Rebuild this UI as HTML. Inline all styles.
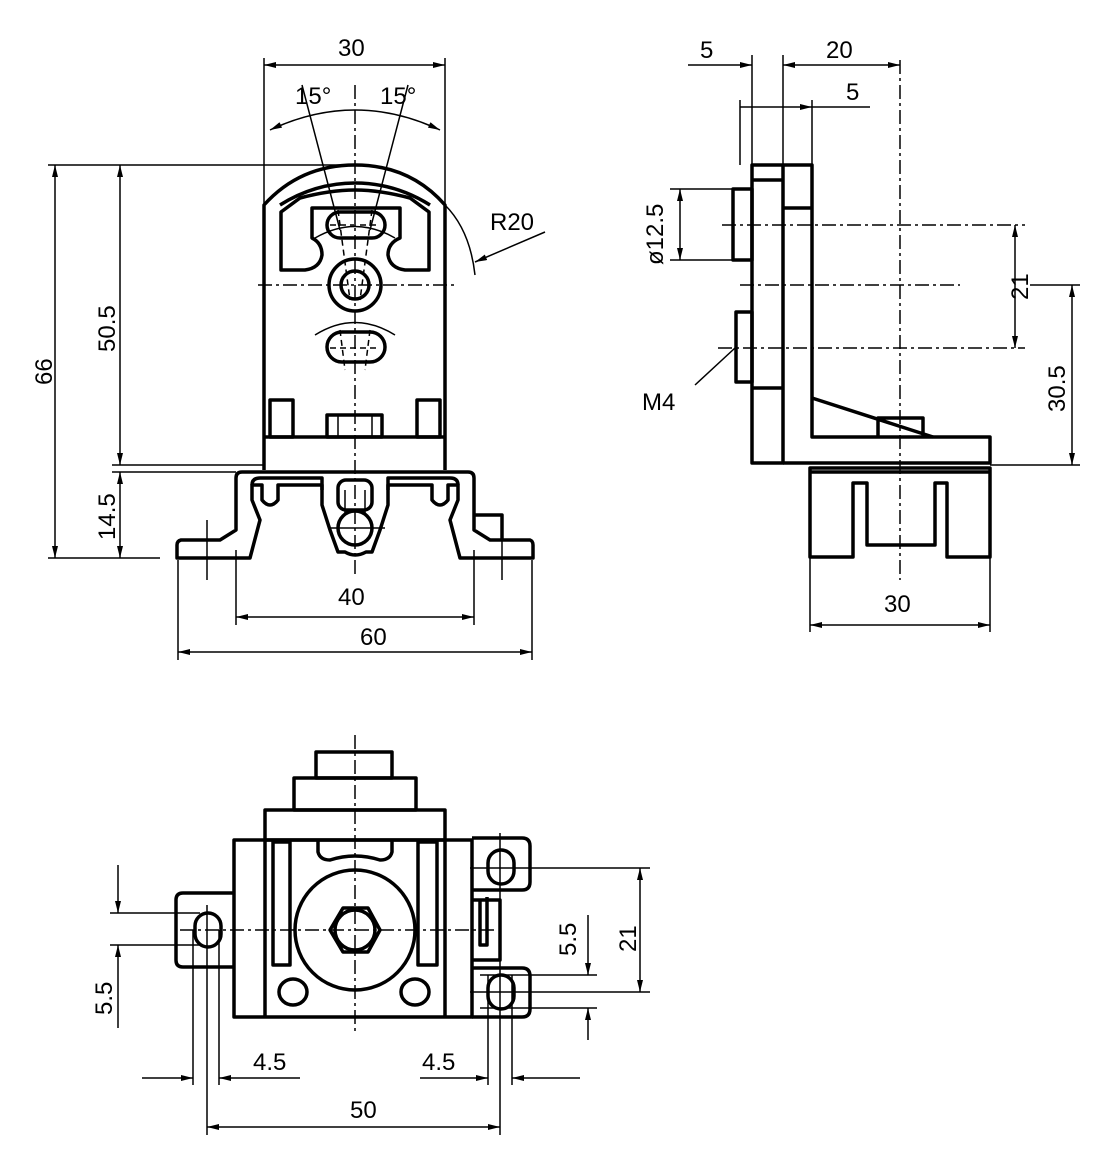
<!DOCTYPE html>
<html><head><meta charset="utf-8"><style>
html,body{margin:0;padding:0;background:#fff}
svg{display:block}
text{font-family:"Liberation Sans",sans-serif;font-size:24px;fill:#000}
.k{fill:none;stroke:#000;stroke-width:3.5;stroke-linejoin:round}
.t{fill:none;stroke:#000;stroke-width:1.5}
.c{fill:none;stroke:#000;stroke-width:1.5;stroke-dasharray:14,4,3,4}
.d{fill:none;stroke:#000;stroke-width:1.5;stroke-dasharray:6,4}
</style></head><body>
<svg width="1110" height="1169" viewBox="0 0 1110 1169" xmlns="http://www.w3.org/2000/svg">
<defs>
<marker id="a" viewBox="0 0 12 6" refX="12" refY="3" markerWidth="12" markerHeight="6" orient="auto-start-reverse" markerUnits="userSpaceOnUse"><path d="M0,0 L12,3 L0,6z" fill="#000"/></marker>
</defs>

<!-- ============ FRONT VIEW ============ -->
<path class="k" d="M264,470 V205 Q300,165 355,165 Q410,165 445,205 V470"/>
<path class="k" d="M280,205 Q315,183 355,183 Q395,183 430,205"/>
<path class="k" d="M281,270 V212 L300,198 Q330,190 355,190 Q380,190 410,198 L429,212 V270 H405 Q390,268 388,255 Q388,243 400,238 V208 H312 V238 Q322,243 322,255 Q320,268 305,270 Z"/>
<rect class="k" x="327" y="212" width="58" height="26" rx="13"/>
<circle class="k" cx="355" cy="285" r="26"/>
<circle class="k" cx="355" cy="285" r="14"/>
<rect class="k" x="327" y="332" width="58" height="30" rx="15"/>
<path class="t" d="M315,335 Q355,310 395,335 M315,238 Q355,215 395,238"/>
<path class="d" d="M338,210 L350,300 M372,210 L360,300 M340,330 L345,370 M370,330 L365,370 M330,225 H380 M330,348 H380"/>
<rect class="k" x="270" y="400" width="23" height="37"/>
<rect class="k" x="417" y="400" width="23" height="37"/>
<rect class="k" x="327" y="415" width="55" height="22"/>
<path class="t" d="M338,415 V437 M372,415 V437"/>
<path class="k" d="M264,437 H445"/>
<!-- base -->
<path class="k" d="M264,472 H468 Q474,472 474,478 V530 L490,540 H530 Q533,541 533,545 V558 H460 L450,520 L458,500 V485 H448 V500 Q440,510 432,500 V485 H388 V505 L380,530 L372,552 H366 Q355,558 345,552 H338 L330,530 L322,505 V485 H278 V500 Q270,510 262,500 V485 H252 V500 L260,520 L250,558 H177 V545 Q177,541 181,540 H220 L236,530 V478 Q236,472 242,472 Z"/>
<path class="k" d="M252,485 Q252,478 260,478 H322 V490 M388,490 V478 H450 Q458,478 458,485"/>
<rect class="k" x="338" y="480" width="34" height="30" rx="8"/>
<circle class="k" cx="355" cy="528" r="17"/>
<path class="k" d="M474,515 H502 V540"/>
<path class="t" d="M345,490 V515 M365,490 V515 M330,528 H385"/>
<!-- centre lines -->
<path class="c" d="M355,85 V575 M258,285 H455"/>
<!-- front dims -->
<path class="t" d="M264,58 V205 M445,58 V205"/>
<path class="t" d="M264,65 H445" marker-start="url(#a)" marker-end="url(#a)"/>
<text x="338" y="56">30</text>
<path class="t" d="M270,130 Q355,90 440,130" marker-start="url(#a)" marker-end="url(#a)"/>
<path class="t" d="M302,85 L340,230 M408,85 L370,230"/>
<text x="295" y="104">15°</text><text x="380" y="104">15°</text>
<path class="t" d="M445,205 Q470,230 475,275"/>
<path class="t" d="M545,232 L475,262" marker-end="url(#a)"/>
<text x="490" y="230">R20</text>
<path class="t" d="M48,165 H355 M112,465 H264 M112,472 H236 M48,558 H160"/>
<path class="t" d="M55,165 V558" marker-start="url(#a)" marker-end="url(#a)"/>
<path class="t" d="M120,165 V465" marker-start="url(#a)" marker-end="url(#a)"/>
<path class="t" d="M120,472 V558" marker-start="url(#a)" marker-end="url(#a)"/>
<text transform="translate(52,385) rotate(-90)">66</text>
<text transform="translate(115,352) rotate(-90)">50.5</text>
<text transform="translate(115,540) rotate(-90)">14.5</text>
<path class="t" d="M207,520 V580 M236,550 V625 M474,550 V625 M178,560 V660 M532,560 V660 M502,540 V580"/>
<path class="t" d="M236,617 H474" marker-start="url(#a)" marker-end="url(#a)"/>
<path class="t" d="M178,652 H532" marker-start="url(#a)" marker-end="url(#a)"/>
<text x="338" y="605">40</text><text x="360" y="645">60</text>

<!-- ============ SIDE VIEW ============ -->
<rect class="k" x="752" y="165" width="31" height="298"/>
<path class="k" d="M752,180 H783 M752,388 H783"/>
<path class="k" d="M783,165 H812 V437 H990 V463 H783 M783,208 H812"/>
<rect class="k" x="733" y="189" width="19" height="71"/>
<rect class="k" x="736" y="312" width="16" height="70"/>
<path class="k" d="M812,398 L933,437 M878,437 V418 H923 V437"/>
<path class="k" d="M810,468 H990 V557 H947 V483 H935 V545 H867 V483 H853 V557 H810 Z M810,472 H990"/>
<path class="c" d="M900,60 V580"/>
<path class="c" d="M722,225 H1025 M740,285 H960 M718,348 H1025"/>
<path class="t" d="M752,55 V165 M783,55 V165 M740,100 V165 M812,100 V165"/>
<path class="t" d="M688,65 H752" marker-end="url(#a)"/>
<path class="t" d="M783,65 H900" marker-start="url(#a)" marker-end="url(#a)"/>
<path class="t" d="M740,107 H812" marker-end="url(#a)"/>
<path class="t" d="M812,107 H870"/>
<text x="700" y="58">5</text><text x="826" y="58">20</text><text x="846" y="100">5</text>
<path class="t" d="M670,189 H733 M670,260 H740"/>
<path class="t" d="M680,189 V260" marker-start="url(#a)" marker-end="url(#a)"/>
<text transform="translate(663,265) rotate(-90)">ø12.5</text>
<path class="t" d="M1015,225 V348" marker-start="url(#a)" marker-end="url(#a)"/>
<text transform="translate(1028,300) rotate(-90)">21</text>
<path class="t" d="M1030,285 H1080 M990,465 H1080"/>
<path class="t" d="M1072,285 V465" marker-start="url(#a)" marker-end="url(#a)"/>
<text transform="translate(1065,412) rotate(-90)">30.5</text>
<path class="t" d="M735,348 L695,385"/>
<text x="642" y="410">M4</text>
<path class="t" d="M810,557 V632 M990,557 V632"/>
<path class="t" d="M810,625 H990" marker-start="url(#a)" marker-end="url(#a)"/>
<text x="884" y="612">30</text>

<!-- ============ BOTTOM VIEW ============ -->
<rect class="k" x="316" y="752" width="76" height="26"/>
<rect class="k" x="294" y="778" width="122" height="32"/>
<rect class="k" x="265" y="810" width="180" height="30"/>
<rect class="k" x="234" y="840" width="238" height="177"/>
<path class="k" d="M265,840 V1017 M445,840 V1017"/>
<path class="k" d="M318,840 V852 Q320,860 330,860 Q355,852 380,860 Q390,860 392,852 V840"/>
<rect class="k" x="273" y="842" width="17" height="123"/>
<rect class="k" x="418" y="842" width="19" height="123"/>
<circle class="k" cx="355" cy="930" r="60"/>
<path class="k" d="M330,930 L343,908 H368 L380,930 L368,952 H343 Z"/>
<circle class="k" cx="355" cy="930" r="20"/>
<ellipse class="k" cx="293" cy="992" rx="14" ry="13"/>
<ellipse class="k" cx="415" cy="992" rx="14" ry="13"/>
<path class="k" d="M234,893 H183 Q176,893 176,900 V960 Q176,967 183,967 H234"/>
<rect class="k" x="195" y="913" width="26" height="34" rx="13"/>
<path class="k" d="M472,838 H522 Q530,838 530,846 V882 Q530,890 522,890 H472"/>
<rect class="k" x="488" y="850" width="26" height="34" rx="13"/>
<path class="k" d="M472,968 H522 Q530,968 530,976 V1009 Q530,1017 522,1017 H472"/>
<rect class="k" x="488" y="975" width="26" height="34" rx="13"/>
<path class="k" d="M472,900 H500 V960 H472 M480,900 V945 H487 V897"/>
<path class="c" d="M355,735 V1035 M180,930 H495"/>
<path class="t" d="M207,905 V1085 M193,930 V1085 M219,930 V1085 M488,975 V1085 M500,833 V1135 M512,975 V1085"/>
<path class="t" d="M470,868 H650 M470,992 H650 M110,913 H200 M110,945 H200 M480,975 H597 M480,1008 H597"/>
<path class="t" d="M640,868 V992" marker-start="url(#a)" marker-end="url(#a)"/>
<text transform="translate(636,952) rotate(-90)">21</text>
<path class="t" d="M588,915 V975" marker-end="url(#a)"/>
<path class="t" d="M588,1040 V1008" marker-end="url(#a)"/>
<text transform="translate(576,956) rotate(-90)">5.5</text>
<path class="t" d="M118,865 V913" marker-end="url(#a)"/>
<path class="t" d="M118,1028 V945" marker-end="url(#a)"/>
<text transform="translate(112,1015) rotate(-90)">5.5</text>
<path class="t" d="M142,1078 H193" marker-end="url(#a)"/>
<path class="t" d="M300,1078 H219" marker-end="url(#a)"/>
<text x="253" y="1070">4.5</text>
<path class="t" d="M420,1078 H488" marker-end="url(#a)"/>
<path class="t" d="M580,1078 H512" marker-end="url(#a)"/>
<text x="422" y="1070">4.5</text>
<path class="t" d="M207,1127 H500" marker-start="url(#a)" marker-end="url(#a)"/>
<path class="t" d="M207,1085 V1135"/>
<text x="350" y="1118">50</text>
</svg>
</body></html>
